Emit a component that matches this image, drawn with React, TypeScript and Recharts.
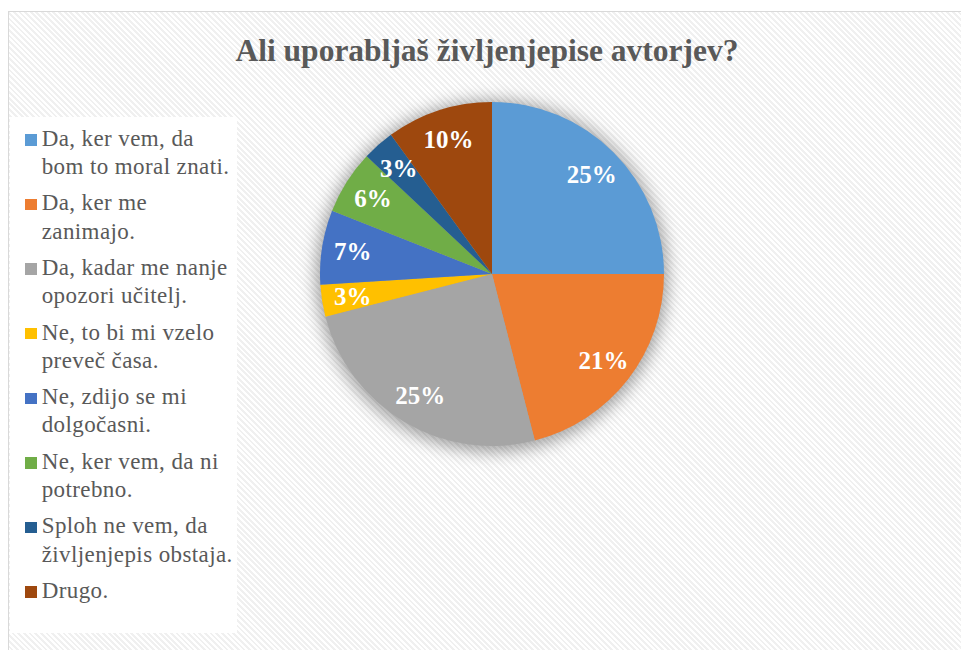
import React from 'react';
import { PieChart, Pie, Cell, Legend } from 'recharts';

const title = 'Ali uporabljaš življenjepise avtorjev?';

const categories = [
  'Da, ker vem, da\nbom to moral znati.',
  'Da, ker me\nzanimajo.',
  'Da, kadar me nanje\nopozori učitelj.',
  'Ne, to bi mi vzelo\npreveč časa.',
  'Ne, zdijo se mi\ndolgočasni.',
  'Ne, ker vem, da ni\npotrebno.',
  'Sploh ne vem, da\nživljenjepis obstaja.',
  'Drugo.',
];

const percentages = [25, 21, 25, 3, 7, 6, 3, 10];

const colors = ['#5B9BD5', '#ED7D31', '#A5A5A5', '#FFC000', '#4472C4', '#70AD47', '#255E91', '#9E480E'];

const data = categories.map((name, i) => ({ name, value: percentages[i] }));
const shadowData = [{ name: 'shadow', value: 1 }];

const FONT = '"Liberation Serif", "Times New Roman", serif';
const TEXT = '#595959';
const RADIAN = Math.PI / 180;

const renderLabel = (props: any) => {
  const { cx, cy, midAngle, outerRadius, value } = props;
  const r = outerRadius * 0.82;
  const x = cx + r * Math.cos(-midAngle * RADIAN);
  const y = cy + r * Math.sin(-midAngle * RADIAN);
  return (
    <text
      x={x}
      y={y}
      fill="#ffffff"
      textAnchor="middle"
      dominantBaseline="central"
      fontSize={25}
      fontWeight="bold"
      fontFamily={FONT}
    >
      {value}%
    </text>
  );
};

const LegendContent = () => (
  <div
    style={{
      background: '#ffffff',
      width: 227,
      height: 516,
      boxSizing: 'border-box',
      paddingTop: 7.8,
      fontFamily: FONT,
      fontSize: 23,
      letterSpacing: '0.4px',
      lineHeight: '28.3px',
      color: TEXT,
    }}
  >
    {categories.map((name, i) => (
      <div key={i} style={{ position: 'relative', paddingLeft: 31.7, marginBottom: 8 }}>
        <span
          style={{
            position: 'absolute',
            left: 15,
            top: 9.4,
            width: 11.5,
            height: 11.5,
            background: colors[i],
          }}
        />
        <div style={{ whiteSpace: 'pre-line' }}>{name}</div>
      </div>
    ))}
  </div>
);

export default function App() {
  return (
    <div style={{ position: 'absolute', left: 0, top: 0, width: 961, height: 650, background: '#ffffff', overflow: 'hidden' }}>
      <style>{`.pie-shadow { filter: blur(6px); }`}</style>
      <div
        style={{
          position: 'absolute',
          left: 8,
          top: 11,
          width: 961,
          height: 650,
          borderLeft: '1.5px solid #d9d9d9',
          borderTop: '1.5px solid #d9d9d9',
          background: 'repeating-linear-gradient(45deg, #ffffff 0px, #ffffff 2px, #f0f0f0 2px, #f0f0f0 4px)',
        }}
      />
      <div
        style={{
          position: 'absolute',
          left: 187,
          top: 34.9,
          width: 600,
          textAlign: 'center',
          fontFamily: FONT,
          fontWeight: 'bold',
          fontSize: 31.5,
          lineHeight: '32px',
          color: TEXT,
          whiteSpace: 'nowrap',
        }}
      >
        {title}
      </div>
      <div style={{ position: 'absolute', left: 0, top: 0 }}>
        <PieChart width={961} height={650} margin={{ top: 0, right: 0, bottom: 0, left: 0 }}>
          <Pie
            data={shadowData}
            dataKey="value"
            cx={492}
            cy={276}
            outerRadius={176}
            startAngle={90}
            endAngle={-270}
            fill="rgba(0,0,0,0.35)"
            stroke="none"
            className="pie-shadow"
            isAnimationActive={false}
            legendType="none"
          />
          <Pie
            data={data}
            dataKey="value"
            nameKey="name"
            cx={492}
            cy={274}
            outerRadius={172}
            startAngle={90}
            endAngle={-270}
            stroke="none"
            label={renderLabel}
            labelLine={false}
            isAnimationActive={false}
          >
            {data.map((_, i) => (
              <Cell key={i} fill={colors[i]} stroke="none" />
            ))}
          </Pie>
          <Legend
            layout="vertical"
            content={<LegendContent />}
            wrapperStyle={{ left: 10, top: 117, width: 227, height: 516 }}
          />
        </PieChart>
      </div>
    </div>
  );
}
